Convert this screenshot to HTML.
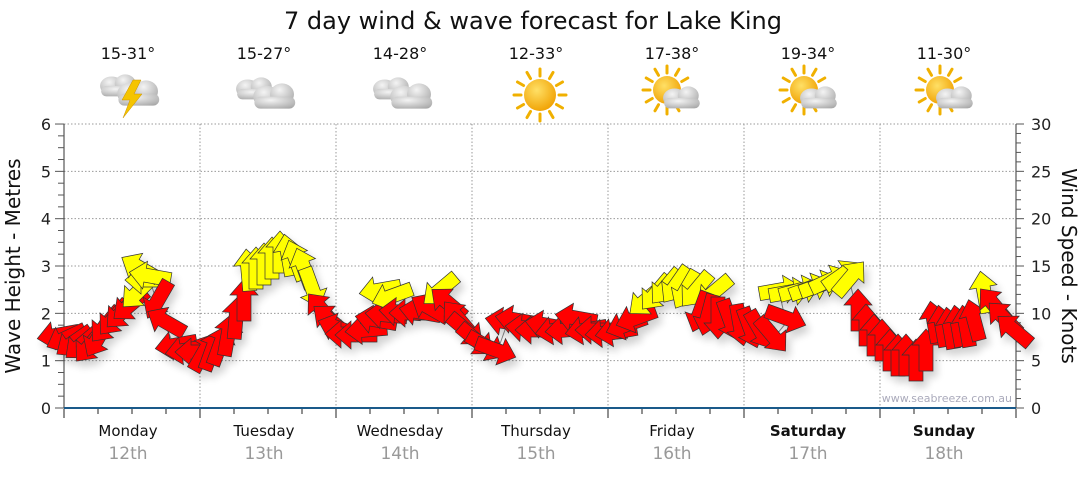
<!DOCTYPE html>
<html><head><meta charset="utf-8"><style>
body{margin:0;background:#fff;width:1080px;height:475px;overflow:hidden;font-family:"Liberation Sans",sans-serif}
</style></head><body>
<svg id="s" width="1080" height="475" xmlns="http://www.w3.org/2000/svg" font-family="DejaVu Sans, Liberation Sans, sans-serif">
<defs>
<radialGradient id="cl" cx="0.4" cy="0.3" r="0.8"><stop offset="0" stop-color="#f4f4f4"/><stop offset="1" stop-color="#a8a8a8"/></radialGradient>
<radialGradient id="sun" cx="0.4" cy="0.35" r="0.7"><stop offset="0" stop-color="#ffe066"/><stop offset="1" stop-color="#f0a000"/></radialGradient>
<filter id="sh" x="-20%" y="-20%" width="150%" height="160%"><feGaussianBlur in="SourceAlpha" stdDeviation="4"/><feOffset dx="4" dy="6"/><feComponentTransfer><feFuncA type="linear" slope="0.18"/></feComponentTransfer><feMerge><feMergeNode/><feMergeNode in="SourceGraphic"/></feMerge></filter>
</defs>
<text x="533" y="29" font-size="24" text-anchor="middle" fill="#111">7 day wind &amp; wave forecast for Lake King</text>
<g id="g"></g>
</svg>
<script>
const g=document.getElementById('g');let h='';
const Y=m=>408-m*47.33;
for(let m=1;m<=5;m++)h+=`<line x1="64" x2="1016" y1="${Y(m)}" y2="${Y(m)}" stroke="#999" stroke-dasharray="1.5,2"/>`;
h+=`<line x1="64" x2="1016" y1="124" y2="124" stroke="#999" stroke-dasharray="1.5,2"/>`;
for(let d=1;d<7;d++){let x=64+d*136;h+=`<line x1="${x}" x2="${x}" y1="124" y2="408" stroke="#999" stroke-dasharray="1.5,2"/>`;}
h+=`<line x1="64" x2="64" y1="124" y2="408" stroke="#333"/>`;
for(let i=0;i<=24;i++){let y=408-i*47.33/4;h+=`<line x1="${i%4?58:55}" x2="64" y1="${y}" y2="${y}" stroke="#555"/>`;}
for(let m=0;m<=6;m++)h+=`<text x="46" y="${Y(m)+6}" font-size="16" text-anchor="middle" fill="#222">${m}</text>`;
h+=`<line x1="1016" x2="1016" y1="124" y2="408" stroke="#333"/>`;
for(let i=0;i<=30;i++){let y=408-i*284/30;h+=`<line x1="1016" x2="${i%5?1021:1024}" y1="${y}" y2="${y}" stroke="#555"/>`;}
for(let k=0;k<=30;k+=5)h+=`<text x="1031" y="${408-k*284/30+6}" font-size="16" fill="#222">${k}</text>`;
h+=`<line x1="64" x2="1016" y1="408" y2="408" stroke="#1a5a8a" stroke-width="2"/>`;
for(let i=0;i<=28;i++){let x=64+i*34;h+=`<line x1="${x}" x2="${x}" y1="409" y2="${i%4?414:418}" stroke="#222"/>`;}
const days=["Monday","Tuesday","Wednesday","Thursday","Friday","Saturday","Sunday"],dt=["12th","13th","14th","15th","16th","17th","18th"];
const temps=["15-31°","15-27°","14-28°","12-33°","17-38°","19-34°","11-30°"];
for(let d=0;d<7;d++){let c=132+d*136;
h+=`<text x="${c-4}" y="436" font-size="15" text-anchor="middle" fill="#111" ${d>=5?'font-weight="bold"':''}>${days[d]}</text>`;
h+=`<text x="${c-4}" y="459" font-size="17" text-anchor="middle" fill="#999">${dt[d]}</text>`;
h+=`<text x="${c-4}" y="59" font-size="16" text-anchor="middle" fill="#111">${temps[d]}</text>`;}
h+=`<text x="20" y="266" font-size="20" fill="#111" text-anchor="middle" transform="rotate(-90 20 266)">Wave Height - Metres</text>`;
h+=`<text x="1062" y="266" font-size="20" fill="#111" text-anchor="middle" transform="rotate(90 1062 266)">Wind Speed - Knots</text>`;
h+=`<text x="1012" y="402" font-size="11" fill="#aab" text-anchor="end">www.seabreeze.com.au</text>`;
const cloud=(x,y,s)=>`<g transform="translate(${x},${y}) scale(${s})"><ellipse cx="-8" cy="-2" rx="11" ry="9" fill="url(#cl)"/><ellipse cx="5" cy="-4" rx="10" ry="9" fill="url(#cl)"/><rect x="-18" y="-2" width="34" height="10" rx="5" fill="url(#cl)"/></g>`;
const twoCloud=(x,y)=>cloud(x-10,y-4,1.05)+cloud(x+10,y+4,1.2);
const sun=(x,y,r)=>{let s='';for(let i=0;i<12;i++){let a=i*Math.PI/6;s+=`<line x1="${x+Math.cos(a)*(r+3)}" y1="${y+Math.sin(a)*(r+3)}" x2="${x+Math.cos(a)*(r+10)}" y2="${y+Math.sin(a)*(r+10)}" stroke="#f0b000" stroke-width="3" stroke-linecap="round"/>`;}return s+`<circle cx="${x}" cy="${y}" r="${r}" fill="url(#sun)"/>`;};
h+=twoCloud(130,92)+`<polygon points="133,80 122,100 130,100 123,118 142,94 134,94 141,80" fill="#f5c400" stroke="#c89000" stroke-width="0.5"/>`;
h+=twoCloud(266,95)+twoCloud(403,95)+sun(540,95,16);
for(const cx of [675,812,948]){h+=sun(cx-8,90,14)+cloud(cx+8,100,1.05);}
const A=[
[58,335,-100,'r'],[66,338,-115,'r'],[74,342,-125,'r'],[82,344,-130,'r'],[90,345,-140,'r'],[98,338,-150,'r'],
[106,325,-140,'r'],[114,318,-140,'r'],[122,312,-135,'r'],[130,305,-130,'r'],[138,292,-135,'y'],[146,280,-90,'y'],[140,268,-60,'y'],[150,276,-80,'y'],
[158,300,-150,'r'],[166,322,-60,'r'],[176,345,-100,'r'],[186,350,-100,'r'],[196,352,-90,'r'],
[204,352,30,'r'],[212,350,20,'r'],[220,345,20,'r'],[228,335,10,'r'],[236,318,5,'r'],[244,300,0,'r'],
[248,270,-5,'y'],[256,268,0,'y'],[264,264,0,'y'],[272,258,0,'y'],[280,252,0,'y'],[288,255,-10,'y'],[296,260,-20,'y'],[304,268,-20,'y'],[312,288,160,'y'],
[322,310,-40,'r'],[330,320,-50,'r'],[338,328,-70,'r'],[346,334,-90,'r'],[356,335,-90,'r'],[366,330,-95,'r'],[376,320,-80,'r'],[386,315,-85,'r'],
[380,290,-100,'y'],[392,296,-110,'y'],[400,312,-85,'r'],[410,313,-90,'r'],[420,312,-80,'r'],[430,308,-60,'r'],[440,290,-130,'y'],[448,303,-50,'r'],
[458,318,-40,'r'],[466,330,130,'r'],[476,340,130,'r'],[486,346,120,'r'],[496,350,110,'r'],
[506,322,-80,'r'],[516,320,-80,'r'],[526,328,-85,'r'],[536,330,-90,'r'],[546,325,-80,'r'],[556,330,-100,'r'],[566,330,-95,'r'],[576,318,-80,'r'],[586,330,-100,'r'],[596,330,-90,'r'],
[606,333,-95,'r'],[616,332,-100,'r'],[626,325,-110,'r'],[636,318,-110,'r'],[646,300,-130,'y'],[656,293,-140,'y'],[666,287,-140,'y'],[676,285,-145,'y'],[686,290,-150,'y'],[696,290,-140,'y'],[714,292,-130,'y'],
[700,312,-160,'r'],[708,315,-165,'r'],[718,318,180,'r'],[730,320,160,'r'],[740,325,170,'r'],[750,328,160,'r'],[760,330,150,'r'],[772,335,140,'r'],[786,318,110,'r'],
[780,290,80,'y'],[790,292,80,'y'],[800,290,75,'y'],[810,288,70,'y'],[820,285,70,'y'],[830,280,65,'y'],[842,275,55,'y'],[850,278,40,'y'],
[858,310,0,'r'],[866,325,0,'r'],[874,335,0,'r'],[882,340,0,'r'],[890,350,0,'r'],[898,355,0,'r'],[906,355,0,'r'],[916,360,0,'r'],[926,350,0,'r'],
[934,322,-10,'r'],[942,326,-10,'r'],[950,328,-10,'r'],[958,326,-10,'r'],[966,326,-10,'r'],[974,320,-15,'r'],[984,292,-10,'y'],[994,305,-40,'r'],[1004,318,-45,'r'],[1014,330,-50,'r']
];
let path='M'+A.map(a=>a[0]+','+(a[1]+5)).join(' L');
h+=`<path d="${path}" fill="none" stroke="#888" stroke-width="1"/><g filter="url(#sh)">`;
for(const [x,y,r,c] of A){
h+=`<polygon transform="translate(${x},${y}) rotate(${r})" points="0,-21 14,-5 7,-5 7,21 -7,21 -7,-5 -14,-5" fill="${c=='r'?'#ff0000':'#ffff00'}" stroke="#333" stroke-width="0.7" stroke-linejoin="miter"/>`;}
h+='</g>';
g.innerHTML=h;
</script>
</body></html>
